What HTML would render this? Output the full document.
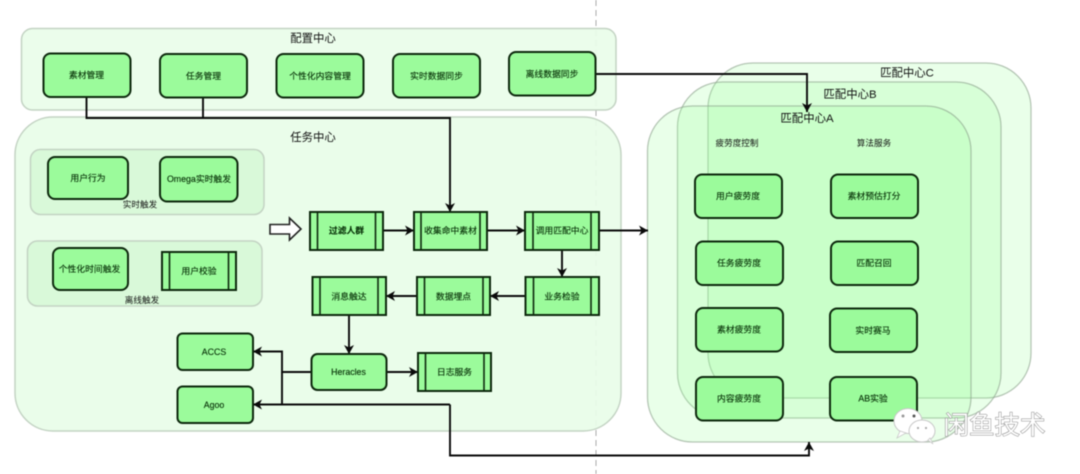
<!DOCTYPE html>
<html><head><meta charset="utf-8"><style>
html,body{margin:0;padding:0;background:#fff;width:1080px;height:474px;overflow:hidden}
svg{display:block;filter:blur(.45px)}
text{font-family:"Liberation Sans","Noto Sans CJK SC",sans-serif;text-anchor:middle;dominant-baseline:central}
.t{font-size:8.8px;fill:#062f06;stroke:#062f06;stroke-width:.12}
.h{font-size:11.4px;fill:#111}
.l{font-size:8.6px;fill:#111}
.b{fill:#9bfb9b;stroke:#0d280d;stroke-width:2}
.p{fill:none;stroke:#0d280d;stroke-width:1.6}
.c{fill:none;stroke:#0a0a0a;stroke-width:1.9}
.g{stroke:#c3d3c3;stroke-width:1.5}
.m{fill:#99ff99;fill-opacity:.21;stroke:#8aa08a;stroke-opacity:.6;stroke-width:1.3}
</style></head><body>
<svg width="1080" height="474" viewBox="0 0 1080 474" xmlns="http://www.w3.org/2000/svg">
<defs>
<marker id="a" markerUnits="userSpaceOnUse" markerWidth="12" markerHeight="12" refX="9" refY="5" orient="auto"><path d="M0 0L9 5L0 10L2.500 5Z" fill="#0a0a0a"/></marker>
</defs>
<rect width="1080" height="474" fill="#fff"/>
<line x1="596" y1="0" x2="596" y2="474" stroke="#aaa" stroke-width="1" stroke-dasharray="6 4"/>

<!-- panels -->
<rect x="21.500" y="28.500" width="594.500" height="81.500" rx="11" fill="#e9fde9" fill-opacity=".92" class="g"/>
<rect x="15" y="117" width="606" height="314" rx="38" fill="#e8fde8" fill-opacity=".92" class="g"/>
<rect x="30.500" y="149.500" width="233.500" height="65" rx="10" fill="#d9f9d9" class="g"/>
<rect x="27.500" y="241" width="234.500" height="65" rx="10" fill="#d9f9d9" class="g"/>

<rect x="708" y="63" width="323" height="335" rx="45" class="m"/>
<rect x="677.500" y="82" width="323.500" height="336" rx="45" class="m"/>
<rect x="647.500" y="106" width="323.500" height="336" rx="45" class="m"/>

<!-- titles -->
<text x="313" y="39" class="h">配置中心</text>
<text x="313" y="138" class="h">任务中心</text>
<text x="907" y="73.500" class="h">匹配中心C</text>
<text x="850" y="95" class="h">匹配中心B</text>
<text x="807" y="119" class="h">匹配中心A</text>
<text x="737" y="143" class="l">疲劳度控制</text>
<text x="874" y="143" class="l">算法服务</text>
<text x="140" y="204.500" class="l">实时触发</text>
<text x="142" y="300" class="l">离线触发</text>

<!-- connectors -->
<path class="c" d="M86.500 97V118H450V212" marker-end="url(#a)"/>
<path class="c" d="M203 98V118"/>
<path class="c" d="M595 74H807V112" marker-end="url(#a)"/>
<path class="c" d="M383 230.500H414" marker-end="url(#a)"/>
<path class="c" d="M487 230.500H525" marker-end="url(#a)"/>
<path class="c" d="M599 230.500H648" marker-end="url(#a)"/>
<path class="c" d="M562 250V277" marker-end="url(#a)"/>
<path class="c" d="M525.500 296H490" marker-end="url(#a)"/>
<path class="c" d="M417 296H386" marker-end="url(#a)"/>
<path class="c" d="M349 315V354" marker-end="url(#a)"/>
<path class="c" d="M386.500 372H418" marker-end="url(#a)"/>
<path class="c" d="M311 372H282V351.500H253" marker-end="url(#a)"/>
<path class="c" d="M282 372V404.500"/>
<path class="c" d="M450 404.500H253" marker-end="url(#a)"/>
<path class="c" d="M450 404.500V455.500H809V442" marker-end="url(#a)"/>

<!-- open arrow -->
<path d="M270 224.500H289.500V218L301 229L289.500 240V234H270Z" fill="#fff" stroke="#222" stroke-width="1.6"/>

<!-- config -->
<rect class="b" x="43.500" y="53.500" width="87" height="43.500" rx="7"/><text x="86.500" y="75" class="t">素材管理</text>
<rect class="b" x="160" y="54" width="87" height="43.500" rx="7"/><text x="203.500" y="76" class="t">任务管理</text>
<rect class="b" x="276.500" y="54" width="87" height="43.500" rx="7"/><text x="320" y="76" class="t">个性化内容管理</text>
<rect class="b" x="393" y="54" width="87" height="43.500" rx="7"/><text x="436.500" y="76" class="t">实时数据同步</text>
<rect class="b" x="509" y="52" width="86.500" height="43.500" rx="7"/><text x="552" y="74" class="t">离线数据同步</text>

<!-- triggers -->
<rect class="b" x="48" y="157" width="80" height="42" rx="7" stroke-width="1.5"/><text x="88" y="178" class="t">用户行为</text>
<rect class="b" x="160" y="157" width="77.500" height="44.500" rx="7"/><text x="199" y="179" class="t">Omega实时触发</text>
<rect class="b" x="53" y="248" width="75" height="42" rx="7"/><text x="89.500" y="269" class="t">个性化时间触发</text>
<rect class="b" x="162" y="252" width="74" height="38"/><path class="p" d="M169.500 252V290M228.500 252V290"/><text x="199" y="271" class="t">用户校验</text>

<!-- process -->
<rect class="b" x="310" y="212" width="73" height="38"/><path class="p" d="M317.500 212V250M375.500 212V250"/><text x="346.500" y="230.500" class="t" font-weight="700">过滤人群</text>
<rect class="b" x="414" y="212" width="73" height="38"/><path class="p" d="M421 212V250M480 212V250"/><text x="450.500" y="230.500" class="t">收集命中素材</text>
<rect class="b" x="525" y="212" width="74" height="38"/><path class="p" d="M533 212V250M591 212V250"/><text x="562" y="230.500" class="t">调用匹配中心</text>
<rect class="b" x="525.500" y="277" width="73.500" height="38"/><path class="p" d="M533.500 277V315M591 277V315"/><text x="562" y="296.500" class="t">业务检验</text>
<rect class="b" x="417" y="277" width="73" height="38"/><path class="p" d="M424.500 277V315M483 277V315"/><text x="453.500" y="296.500" class="t">数据埋点</text>
<rect class="b" x="312.500" y="277" width="73.500" height="38"/><path class="p" d="M320 277V315M378 277V315"/><text x="349" y="296.500" class="t">消息触达</text>
<rect class="b" x="311.500" y="354" width="75" height="36" rx="6"/><text x="348.500" y="372" class="t">Heracles</text>
<rect class="b" x="418" y="353" width="73" height="38"/><path class="p" d="M425.500 353V391M484 353V391"/><text x="454.500" y="372" class="t">日志服务</text>
<rect class="b" x="177.500" y="333.500" width="75.500" height="36.500" rx="5"/><text x="214" y="352" class="t">ACCS</text>
<rect class="b" x="177.500" y="386.500" width="75.500" height="36.500" rx="5"/><text x="214" y="405" class="t">Agoo</text>

<!-- match boxes -->
<rect class="b" x="695" y="174.500" width="87" height="43.500" rx="7"/><text x="738" y="196" class="t">用户疲劳度</text>
<rect class="b" x="831" y="174.500" width="87" height="43.500" rx="7"/><text x="874" y="196" class="t">素材预估打分</text>
<rect class="b" x="696" y="241.500" width="87" height="43.500" rx="7"/><text x="739" y="263" class="t">任务疲劳度</text>
<rect class="b" x="831" y="241.500" width="87" height="43.500" rx="7"/><text x="874" y="263" class="t">匹配召回</text>
<rect class="b" x="696" y="308" width="87" height="43.500" rx="7"/><text x="739" y="329.500" class="t">素材疲劳度</text>
<rect class="b" x="830" y="308.500" width="87" height="43.500" rx="7"/><text x="873" y="330.500" class="t">实时赛马</text>
<rect class="b" x="696" y="377" width="87" height="43.500" rx="7"/><text x="739" y="398.500" class="t">内容疲劳度</text>
<rect class="b" x="830" y="377" width="87" height="43.500" rx="7"/><text x="873" y="398.500" class="t">AB实验</text>

<!-- watermark -->
<ellipse cx="908" cy="421" rx="14" ry="12.500" fill="#fff" stroke="#c8c8c8" stroke-width="1"/>
<path d="M900 431L897 438L906 433Z" fill="#fff" stroke="#c8c8c8" stroke-width=".8"/>
<ellipse cx="922" cy="431" rx="13" ry="11" fill="#fff" stroke="#c8c8c8" stroke-width="1"/>
<path d="M928 440L933 444L930 438Z" fill="#fff" stroke="#c8c8c8" stroke-width=".8"/>
<circle cx="903" cy="416" r="1.500" fill="#999"/><circle cx="914" cy="416" r="1.500" fill="#555"/>
<circle cx="918" cy="428" r="1.100" fill="#aaa"/><circle cx="926" cy="428" r="1.100" fill="#aaa"/>
<text x="994.500" y="426" font-size="25.500" fill="#fff" stroke="#8a8a8a" stroke-width="1" paint-order="stroke">闲鱼技术</text>
</svg>
</body></html>
